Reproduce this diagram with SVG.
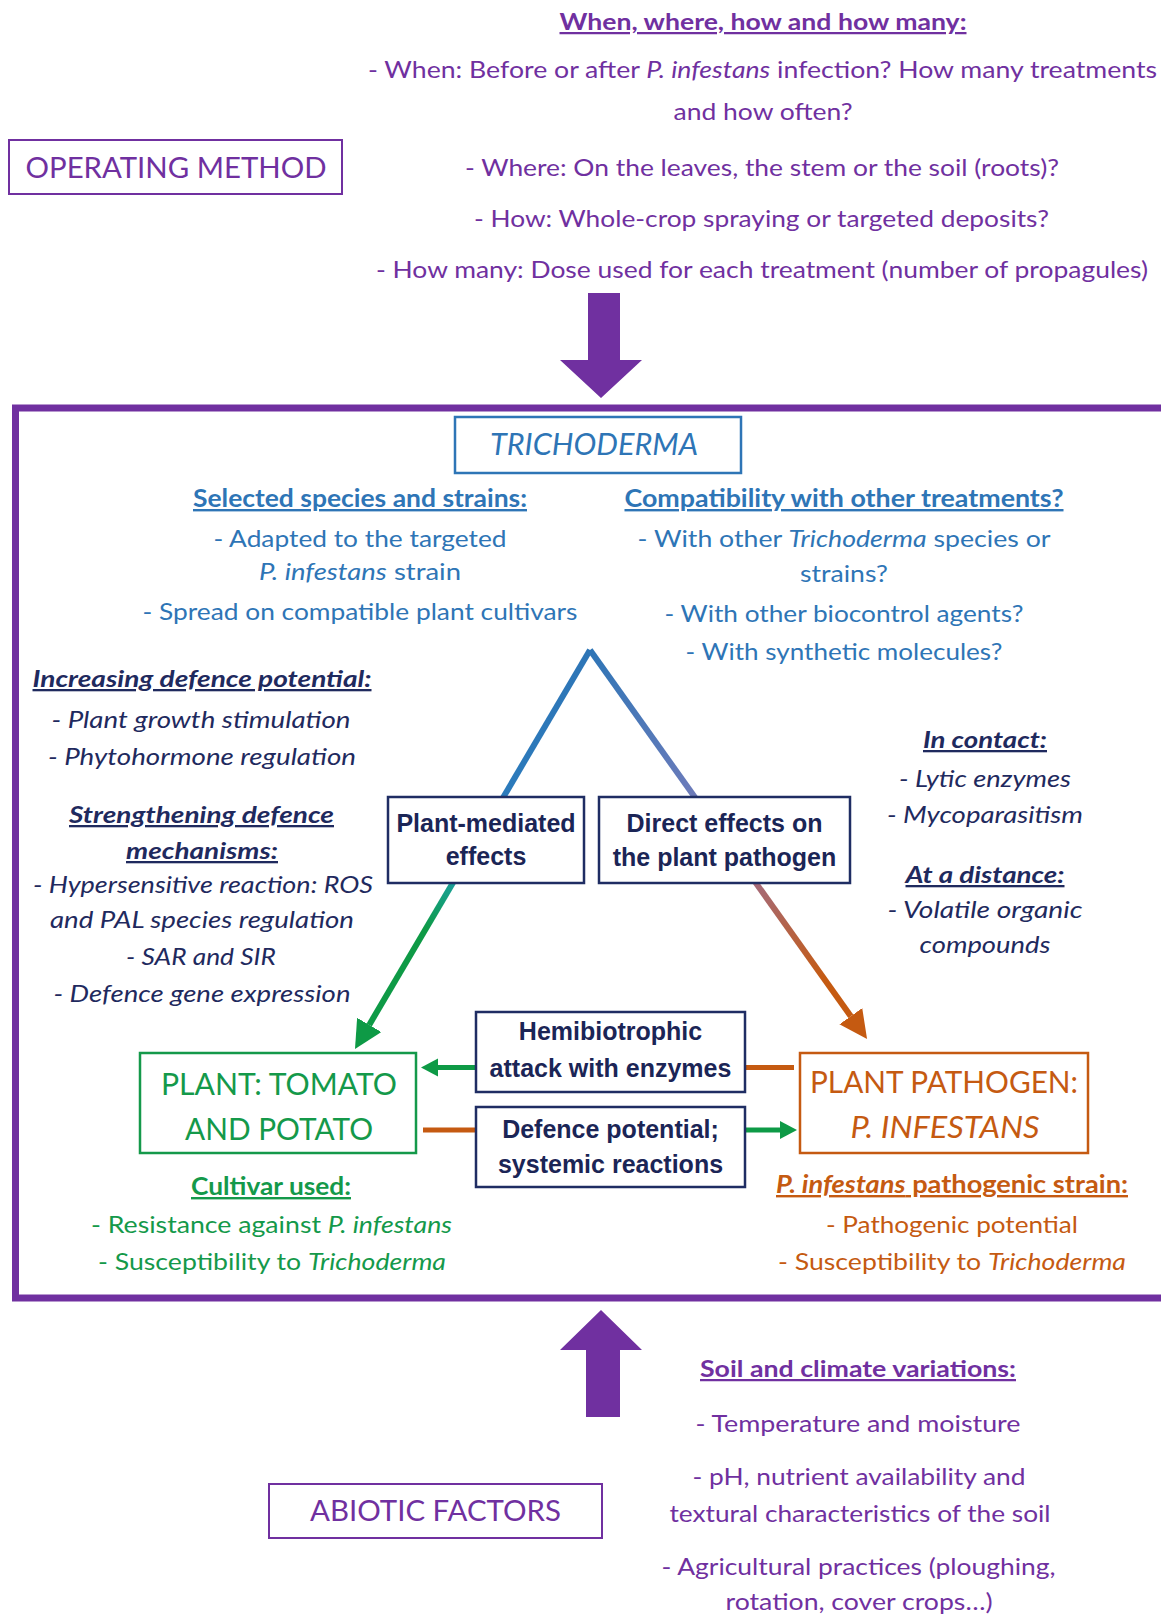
<svg xmlns="http://www.w3.org/2000/svg" width="1161" height="1615" viewBox="0 0 1161 1615">
<defs>
<style>
text{font-family:Lato,"Open Sans","Liberation Sans",sans-serif;text-anchor:middle}
.pu{fill:#7030A0}
.bl{fill:#2E75B6}
.nv{fill:#1F2A5E;font-style:italic}
.gr{fill:#14994A}
.or{fill:#C55A11}
.h{font-weight:bold;text-decoration:underline}
.s21{font-size:22.5px}
.s23{font-size:24px}
.s22{font-size:23px}
.big{font-size:30px}
.it{font-style:italic}
.lab{font-family:"Liberation Sans",Arial,sans-serif;font-weight:bold;font-size:25px;fill:#1B2556;font-style:normal}
.nbox{fill:#fff;stroke:#1F2D63;stroke-width:2.5}
.pbox{fill:#fff;stroke:#7030A0;stroke-width:2}
.conn{stroke-width:5;fill:none}
</style>
<linearGradient id="gLeft" gradientUnits="userSpaceOnUse" x1="590" y1="650" x2="355" y2="1049">
<stop offset="0" stop-color="#2E75B6"/>
<stop offset="0.52" stop-color="#2A7DBE"/>
<stop offset="0.6" stop-color="#17A08C"/>
<stop offset="0.7" stop-color="#0E9A46"/>
<stop offset="1" stop-color="#0E9A46"/>
</linearGradient>
<linearGradient id="gRight" gradientUnits="userSpaceOnUse" x1="590" y1="650" x2="867" y2="1039">
<stop offset="0" stop-color="#2E75B6"/>
<stop offset="0.36" stop-color="#6A7BBA"/>
<stop offset="0.6" stop-color="#A56A78"/>
<stop offset="0.85" stop-color="#C55A11"/>
<stop offset="1" stop-color="#C55A11"/>
</linearGradient>
<marker id="aGreen" markerUnits="userSpaceOnUse" markerWidth="30" markerHeight="30" refX="0" refY="14" orient="auto"><path d="M0,0 L28,14 L0,28 z" fill="#0E9A46"/></marker>
<marker id="aOrange" markerUnits="userSpaceOnUse" markerWidth="30" markerHeight="30" refX="0" refY="14" orient="auto"><path d="M0,0 L28,14 L0,28 z" fill="#C55A11"/></marker>
<marker id="aGreenS" markerUnits="userSpaceOnUse" markerWidth="20" markerHeight="20" refX="0" refY="9" orient="auto"><path d="M0,0 L17,9 L0,18 z" fill="#0E9A46"/></marker>
</defs>
<rect width="1161" height="1615" fill="#fff"/>

<!-- header -->
<g id="operating-method-notes" class="pu">
<text class="s21 h" x="763" y="30" textLength="407" lengthAdjust="spacingAndGlyphs">When, where, how and how many:</text>
<text class="s21" x="762.5" y="78" textLength="789" lengthAdjust="spacingAndGlyphs">- When: Before or after <tspan class="it">P. infestans</tspan> infection? How many treatments</text>
<text class="s21" x="763" y="120" textLength="179" lengthAdjust="spacingAndGlyphs">and how often?</text>
<text class="s21" x="762" y="176" textLength="594" lengthAdjust="spacingAndGlyphs">- Where: On the leaves, the stem or the soil (roots)?</text>
<text class="s21" x="761.5" y="227" textLength="575" lengthAdjust="spacingAndGlyphs">- How: Whole-crop spraying or targeted deposits?</text>
<text class="s21" x="762" y="278" textLength="772" lengthAdjust="spacingAndGlyphs">- How many: Dose used for each treatment (number of propagules)</text>
</g>

<g id="operating-method">
<rect class="pbox" x="9" y="140" width="333" height="54"/>
<text class="pu" font-size="29" x="176" y="178" textLength="301" lengthAdjust="spacingAndGlyphs">OPERATING METHOD</text>
</g>

<!-- main frame -->
<g id="main-frame">
<rect x="15.5" y="408" width="1160" height="890" fill="none" stroke="#7030A0" stroke-width="7"/>
</g>

<!-- connectors -->
<g id="connectors">
<polygon points="588,293 620,293 620,360 642,360 601,398 560,360 588,360" fill="#7030A0"/>
<polygon points="586,1417 620,1417 620,1350 642,1350 601,1310 560,1350 586,1350" fill="#7030A0"/>
<line x1="590" y1="650" x2="369.2" y2="1024.9" stroke="url(#gLeft)" stroke-width="6" marker-end="url(#aGreen)"/>
<line x1="590" y1="650" x2="850.8" y2="1016.2" stroke="url(#gRight)" stroke-width="6" marker-end="url(#aOrange)"/>
<line class="conn" x1="476" y1="1067.5" x2="438" y2="1067.5" stroke="#0E9A46" marker-end="url(#aGreenS)"/>
<line class="conn" x1="745" y1="1067.5" x2="794" y2="1067.5" stroke="#C55A11"/>
<line class="conn" x1="423" y1="1130" x2="476" y2="1130" stroke="#C55A11"/>
<line class="conn" x1="745" y1="1130" x2="780" y2="1130" stroke="#0E9A46" marker-end="url(#aGreenS)"/>
</g>

<g id="trichoderma">
<rect x="455" y="417" width="286" height="56" fill="#fff" stroke="#2E75B6" stroke-width="2.5"/>
<text class="bl it big" x="594" y="455" textLength="208" lengthAdjust="spacingAndGlyphs">TRICHODERMA</text>
</g>

<g id="selected-species" class="bl">
<text class="s23 h" x="360" y="507" textLength="334" lengthAdjust="spacingAndGlyphs">Selected species and strains:</text>
<text class="s23" x="360" y="547" textLength="293" lengthAdjust="spacingAndGlyphs">- Adapted to the targeted</text>
<text class="s23" x="360" y="580" textLength="202" lengthAdjust="spacingAndGlyphs"><tspan class="it">P. infestans</tspan> strain</text>
<text class="s23" x="360" y="620" textLength="435" lengthAdjust="spacingAndGlyphs">- Spread on compatible plant cultivars</text>
</g>

<g id="compatibility" class="bl">
<text class="s23 h" x="844" y="507" textLength="439" lengthAdjust="spacingAndGlyphs">Compatibility with other treatments?</text>
<text class="s23" x="844" y="547" textLength="413" lengthAdjust="spacingAndGlyphs">- With other <tspan class="it">Trichoderma</tspan> species or</text>
<text class="s23" x="844" y="582" textLength="88" lengthAdjust="spacingAndGlyphs">strains?</text>
<text class="s23" x="844" y="622" textLength="359" lengthAdjust="spacingAndGlyphs">- With other biocontrol agents?</text>
<text class="s23" x="844" y="660" textLength="317" lengthAdjust="spacingAndGlyphs">- With synthetic molecules?</text>
</g>

<g id="plant-mediated-notes" class="nv">
<text class="s22 h" x="202" y="687" textLength="339" lengthAdjust="spacingAndGlyphs">Increasing defence potential:</text>
<text class="s22" x="201" y="728" textLength="299" lengthAdjust="spacingAndGlyphs">- Plant growth stimulation</text>
<text class="s22" x="202" y="765" textLength="308" lengthAdjust="spacingAndGlyphs">- Phytohormone regulation</text>
<text class="s22 h" x="201.5" y="823" textLength="265" lengthAdjust="spacingAndGlyphs">Strengthening defence</text>
<text class="s22 h" x="202" y="859" textLength="152" lengthAdjust="spacingAndGlyphs">mechanisms:</text>
<text class="s22" x="203" y="893" textLength="340" lengthAdjust="spacingAndGlyphs">- Hypersensitive reaction: ROS</text>
<text class="s22" x="202" y="928" textLength="304" lengthAdjust="spacingAndGlyphs">and PAL species regulation</text>
<text class="s22" x="201" y="965" textLength="150" lengthAdjust="spacingAndGlyphs">- SAR and SIR</text>
<text class="s22" x="202" y="1002" textLength="297" lengthAdjust="spacingAndGlyphs">- Defence gene expression</text>
</g>

<g id="direct-effects-notes" class="nv">
<text class="s22 h" x="985" y="748" textLength="124" lengthAdjust="spacingAndGlyphs">In contact:</text>
<text class="s22" x="985" y="787" textLength="172" lengthAdjust="spacingAndGlyphs">- Lytic enzymes</text>
<text class="s22" x="985" y="823" textLength="196" lengthAdjust="spacingAndGlyphs">- Mycoparasitism</text>
<text class="s22 h" x="985" y="883" textLength="159" lengthAdjust="spacingAndGlyphs">At a distance:</text>
<text class="s22" x="985" y="918" textLength="195" lengthAdjust="spacingAndGlyphs">- Volatile organic</text>
<text class="s22" x="985" y="953" textLength="131" lengthAdjust="spacingAndGlyphs">compounds</text>
</g>

<g id="plant-mediated">
<rect class="nbox" x="388" y="797" width="196" height="86"/>
<text class="lab" x="486" y="832">Plant-mediated</text>
<text class="lab" x="486" y="865">effects</text>
</g>

<g id="direct-effects">
<rect class="nbox" x="599" y="797" width="251" height="86"/>
<text class="lab" x="724.5" y="832">Direct effects on</text>
<text class="lab" x="724.5" y="866">the plant pathogen</text>
</g>

<g id="hemibiotrophic-attack">
<rect class="nbox" x="476" y="1012" width="269" height="80"/>
<text class="lab" x="610.5" y="1040">Hemibiotrophic</text>
<text class="lab" x="610.5" y="1077">attack with enzymes</text>
</g>

<g id="defence-potential">
<rect class="nbox" x="476" y="1107" width="269" height="80"/>
<text class="lab" x="610.5" y="1138">Defence potential;</text>
<text class="lab" x="610.5" y="1173">systemic reactions</text>
</g>

<g id="plant">
<rect x="140" y="1053" width="276" height="100" fill="#fff" stroke="#14994A" stroke-width="2.5"/>
<text class="gr big" x="279" y="1095" textLength="236" lengthAdjust="spacingAndGlyphs">PLANT: TOMATO</text>
<text class="gr big" x="279" y="1140" textLength="188" lengthAdjust="spacingAndGlyphs">AND POTATO</text>
</g>

<g id="pathogen">
<rect x="800" y="1053" width="288" height="100" fill="#fff" stroke="#C55A11" stroke-width="2.5"/>
<text class="or big" x="944" y="1093" textLength="268" lengthAdjust="spacingAndGlyphs">PLANT PATHOGEN:</text>
<text class="or big it" x="945" y="1138" textLength="189" lengthAdjust="spacingAndGlyphs">P. INFESTANS</text>
</g>

<g id="cultivar-notes" class="gr">
<text class="s23 h" x="271" y="1195" textLength="160" lengthAdjust="spacingAndGlyphs">Cultivar used:</text>
<text class="s23" x="271.5" y="1233" textLength="361" lengthAdjust="spacingAndGlyphs">- Resistance against <tspan class="it">P. infestans</tspan></text>
<text class="s23" x="272" y="1270" textLength="348" lengthAdjust="spacingAndGlyphs">- Susceptibility to <tspan class="it">Trichoderma</tspan></text>
</g>

<g id="pathogen-notes" class="or">
<text class="s23 h" x="952" y="1193" textLength="352" lengthAdjust="spacingAndGlyphs"><tspan class="it">P. infestans</tspan> pathogenic strain:</text>
<text class="s23" x="952" y="1233" textLength="252" lengthAdjust="spacingAndGlyphs">- Pathogenic potential</text>
<text class="s23" x="952" y="1270" textLength="348" lengthAdjust="spacingAndGlyphs">- Susceptibility to <tspan class="it">Trichoderma</tspan></text>
</g>

<g id="abiotic-notes" class="pu">
<text class="s21 h" x="858" y="1377" textLength="316" lengthAdjust="spacingAndGlyphs">Soil and climate variations:</text>
<text class="s21" x="858" y="1432" textLength="325" lengthAdjust="spacingAndGlyphs">- Temperature and moisture</text>
<text class="s21" x="859" y="1485" textLength="333" lengthAdjust="spacingAndGlyphs">- pH, nutrient availability and</text>
<text class="s21" x="860" y="1522" textLength="381" lengthAdjust="spacingAndGlyphs">textural characteristics of the soil</text>
<text class="s21" x="858.5" y="1575" textLength="394" lengthAdjust="spacingAndGlyphs">- Agricultural practices (ploughing,</text>
<text class="s21" x="859" y="1610" textLength="267" lengthAdjust="spacingAndGlyphs">rotation, cover crops…)</text>
</g>

<g id="abiotic-factors">
<rect class="pbox" x="269" y="1484" width="333" height="54"/>
<text class="pu" font-size="29" x="435.5" y="1521" textLength="251" lengthAdjust="spacingAndGlyphs">ABIOTIC FACTORS</text>
</g>
</svg>
